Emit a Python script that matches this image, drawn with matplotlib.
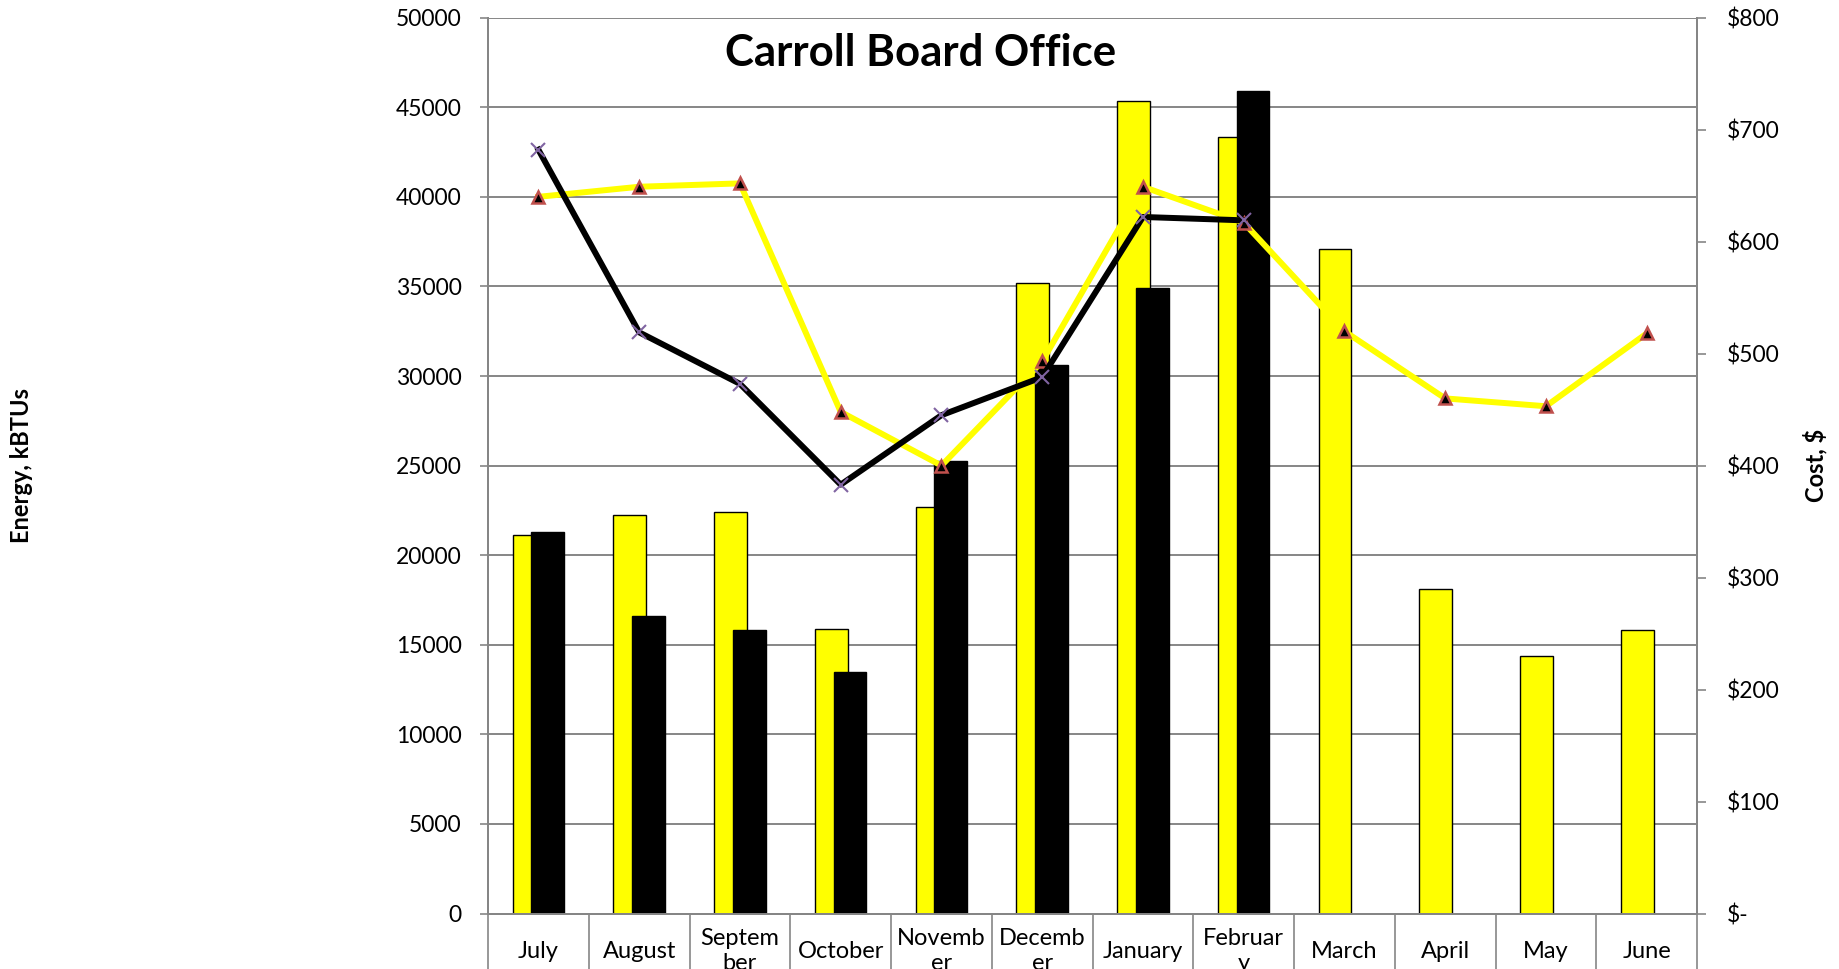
import matplotlib
matplotlib.use("Agg")
import matplotlib.pyplot as plt
import matplotlib.transforms as mtransforms
import numpy as np

# chart data
months = ["July", "August", "September", "October", "November", "December",
          "January", "February", "March", "April", "May", "June"]
month_labels = ["July", "August", "Septem\nber", "October", "Novemb\ner", "Decemb\ner",
                "January", "Februar\ny", "March", "April", "May", "June"]
energy_prev = [21140, 22250, 22385, 15905, 22710, 35210, 45355, 43330, 37110, 18130, 14400, 15840]
energy_curr = [21270, 16625, 15840, 13480, 25260, 30630, 34885, 45880]
cost_prev = [640, 649, 652, 448, 400, 493, 649, 617, 520, 460, 453, 518]
cost_curr = [682, 519, 473, 383, 445, 479, 622, 619]

title = "Carroll Board Office"
left_label = "Energy, kBTUs"
right_label = "Cost, $"

plt.rcParams['font.family'] = ['Lato', 'DejaVu Sans']

fig = plt.figure(figsize=(18.39, 9.69), dpi=100)
ax = fig.add_axes([0.2654, 0.0572, 0.9228 - 0.2654, 0.9818 - 0.0572])
ax2 = ax.twinx()

grey = "#868686"
x = np.arange(len(months))
bar_w = 0.326
off = 0.093

ax.bar(x - off, energy_prev, width=bar_w, color="#FFFF00", edgecolor="black", linewidth=1.0, zorder=2)
ax.bar(x[:len(energy_curr)] + off, energy_curr, width=bar_w, color="black", edgecolor="black",
       linewidth=1.0, zorder=3)

ax2.plot(x, cost_prev, color="#FFFF00", linewidth=4.3, marker="^", markersize=9,
         markerfacecolor="black", markeredgecolor="#C0504D", markeredgewidth=1.8, zorder=3)
ax2.plot(x[:len(cost_curr)], cost_curr, color="black", linewidth=4.3, marker="x", markersize=10,
         markeredgecolor="#8064A2", markeredgewidth=1.5, zorder=4)

ax.set_xlim(-0.5, len(months) - 0.5)
ax.set_ylim(0, 50000)
ax2.set_ylim(0, 800)

ax.set_yticks(np.arange(0, 50001, 5000))
ax.yaxis.grid(True, color=grey, linewidth=1.4)
ax.set_axisbelow(True)
ax2.set_yticks(np.arange(0, 801, 100))
ax2.set_yticklabels(["$-"] + ["$%d" % v for v in range(100, 801, 100)])

# category separators below the axis, labels in between
ax.set_xticks(np.arange(-0.5, len(months), 1.0))
ax.set_xticklabels([])
ax.tick_params(axis="x", direction="out", length=60, width=1.2, color=grey)
trans = mtransforms.blended_transform_factory(ax.transData, ax.transAxes)
for i, lab in enumerate(month_labels):
    ax.text(i, -0.042, lab, transform=trans, ha="center", va="center",
            fontsize=17, linespacing=1.25, clip_on=False)

ax.tick_params(axis="y", direction="out", length=6, width=1.2, color=grey, labelsize=16.5, pad=13)
ax2.tick_params(axis="y", direction="out", length=6.5, width=1.2, color=grey, labelsize=16.5, pad=15)

for a in (ax, ax2):
    a.spines["top"].set_visible(False)
    for s in ("left", "right", "bottom"):
        a.spines[s].set_color(grey)
        a.spines[s].set_linewidth(1.4)

fig.text(0.5005, 0.9455, title, ha="center", va="center", fontsize=31.5, fontweight="bold")
fig.text(0.0115, 0.52, left_label, rotation=90, ha="center", va="center", fontsize=17, fontweight="bold")
fig.text(0.987, 0.52, right_label, rotation=90, ha="center", va="center", fontsize=17, fontweight="bold")

fig.savefig("out.png", dpi=100)
